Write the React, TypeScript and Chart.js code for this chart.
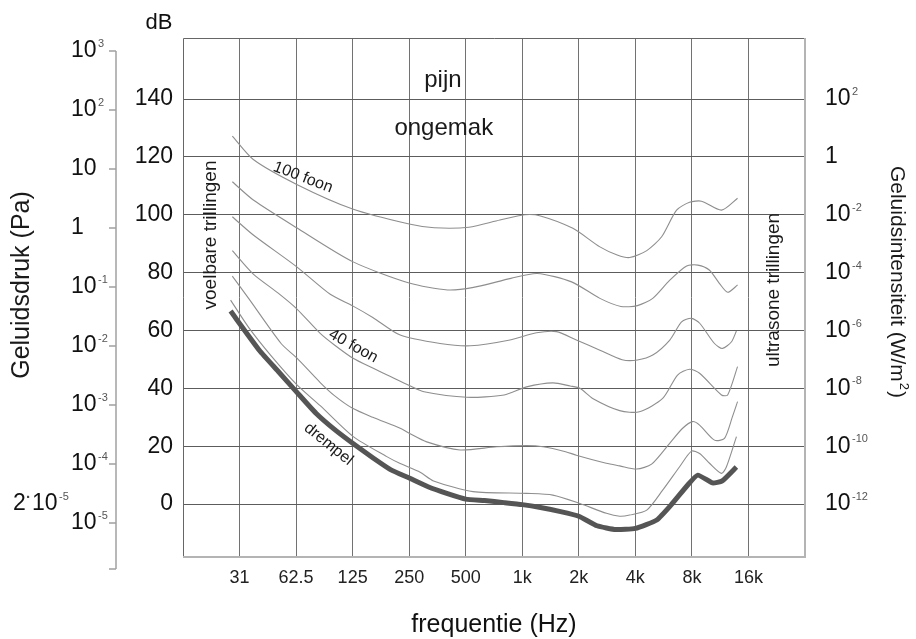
import React, { useEffect, useRef } from 'react';
import { Chart, registerables } from 'chart.js';

Chart.register(...registerables);

const FONT = "'Liberation Sans', Arial, Helvetica, sans-serif";

// ---- axes ----
const freqTicks = [31.25, 62.5, 125, 250, 500, 1000, 2000, 4000, 8000, 16000];
const freqTickLabels = ['31', '62.5', '125', '250', '500', '1k', '2k', '4k', '8k', '16k'];
const freqRange = [15.625, 32000];

const dbTicks = [0, 20, 40, 60, 80, 100, 120, 140];
const dbRange = [-18.3, 161.1];

const intensityExponents = [-12, -10, -8, -6, -4, -2, 0, 2];

const paExponents = [3, 2, 1, 0, -1, -2, -3, -4, -5];
const paRange = [-5.576, 3.22];
const paAxisEnds = [3, -5.78];

// ---- curves (Hz, dB) ----
const drempelHz = [28, 40, 50, 63, 80, 100, 125, 160, 200, 250, 315, 400, 500, 630, 800, 1000, 1250, 1600, 2000, 2500, 3150, 4000, 5200, 6200, 7600, 8600, 10300, 11600, 13800];
const drempelDb = [66.7, 53, 46, 38.7, 31.3, 25.8, 21, 16, 11.8, 9, 6, 3.6, 1.7, 1.2, 0.5, -0.2, -1.2, -2.6, -4.2, -7.5, -8.8, -8.4, -5.5, -0.3, 6.6, 10, 7.3, 8, 12.8];

const foon10Hz = [28, 35, 45.7, 63, 84, 126, 190, 224, 286, 337, 547, 1055, 1455, 2025, 2806, 3300, 3730, 4600, 5590, 6880, 7960, 8790, 9930, 11490, 12220, 13810];
const foon10Db = [70.5, 61, 51.5, 41.3, 34, 23.3, 16.4, 14, 11, 8, 4.3, 3.7, 3.1, 0.2, -3.2, -4.2, -3.8, -2.1, 4.8, 12.9, 18.3, 17.5, 14.1, 10.6, 12.9, 23.3];

const foon20Hz = [28.6, 35, 52, 63, 84, 100, 125, 160, 224, 250, 310, 466, 730, 1060, 1290, 1700, 1940, 2800, 3300, 4060, 4880, 6090, 7140, 8060, 8790, 10550, 11930, 13150, 14000];
const foon20Db = [78.8, 71, 55.5, 50.5, 42, 37.5, 33.1, 30, 26.2, 24.5, 21.5, 18.7, 19.8, 20.2, 19.8, 18.1, 16.9, 14.1, 13.2, 12.1, 13.8, 21, 26.2, 28.5, 27.3, 22.1, 22.7, 30.2, 35.4];

const foon40Hz = [28.6, 37, 50, 63, 84, 100, 125, 160, 200, 250, 300, 506, 800, 1055, 1455, 1800, 2030, 2370, 3300, 4200, 5590, 6710, 7770, 8790, 11500, 12400, 14000];
const foon40Db = [87.6, 79.5, 73, 67.5, 59, 55, 50.5, 47, 44, 41, 38.8, 36.9, 37.7, 40.5, 41.9, 40.8, 40, 36.5, 32.3, 31.9, 36.5, 44.6, 46.6, 45.2, 37.7, 37.7, 47.5];

const foon60Hz = [28.6, 37, 63, 95, 125, 160, 224, 365, 530, 860, 1190, 1520, 1940, 2590, 3400, 4100, 4950, 6100, 7050, 7960, 8800, 10550, 11640, 13000, 13800];
const foon60Db = [99.3, 93, 82, 72.5, 68.5, 64.5, 58.4, 55.5, 54.7, 56.7, 59.2, 59.6, 56.7, 53.2, 49.9, 49.8, 51.5, 56.7, 63, 64.2, 62.5, 55.5, 53.8, 56.1, 59.8];

const foon80Hz = [28.6, 37, 63, 125, 250, 400, 550, 870, 1200, 1830, 2590, 3350, 4100, 4950, 6100, 7500, 8600, 9900, 11200, 12400, 14000];
const foon80Db = [111.4, 105.1, 95.5, 83.8, 76.4, 74, 74.9, 78, 79.7, 76.8, 71.1, 68.3, 68.6, 71.1, 77.4, 82.3, 82.6, 80.9, 76.3, 73.2, 75.7];

const foon100Hz = [28.6, 37, 63, 125, 250, 340, 520, 760, 1030, 1250, 1860, 2590, 3200, 3730, 4600, 5520, 6630, 7770, 9000, 11500, 14000];
const foon100Db = [127.2, 119.1, 110.5, 102, 96.8, 95.5, 95.7, 98.2, 100, 99.6, 95.3, 88.9, 86.1, 85.2, 87.6, 92.4, 101.6, 104.3, 104.7, 101.6, 105.7];

// ---- annotations inside the plot: [text, Hz, dB, angle, size] ----
const areaLabels: [string, number, number, number, number][] = [
  ['pijn', 378, 146.6, 0, 24],
  ['ongemak', 382, 130, 0, 24],
  ['100 foon', 68, 112.9, 21, 16],
  ['40 foon', 126, 54.6, 29, 16],
  ['drempel', 93, 20.7, 39, 16],
  ['voelbare trillingen', 21.9, 93, -90, 19],
  ['ultrasone trillingen', 21700, 74, -90, 19],
];

const THIN = '#8e8e8e';
const THICK = '#555555';

function curve(hz: number[], db: number[], color: string, width: number, tension: number) {
  return {
    data: hz.map((f, i) => ({ x: f, y: db[i] })),
    borderColor: color,
    borderWidth: width,
    pointRadius: 0,
    tension,
    fill: false,
  };
}

function drawPow(ctx: CanvasRenderingContext2D, x: number, y: number, base: string, exp: string | null, size: number) {
  ctx.font = `${size}px ${FONT}`;
  ctx.fillStyle = '#111';
  ctx.textAlign = 'left';
  ctx.textBaseline = 'middle';
  ctx.fillText(base, x, y);
  const w = ctx.measureText(base).width;
  if (exp !== null) {
    ctx.font = `11px ${FONT}`;
    ctx.fillStyle = '#555';
    ctx.fillText(exp, x + w + 1.5, y - 7);
  }
}

function rotText(ctx: CanvasRenderingContext2D, s: string, x: number, y: number, deg: number, size: number) {
  ctx.save();
  ctx.translate(x, y);
  ctx.rotate((deg * Math.PI) / 180);
  ctx.font = `${size}px ${FONT}`;
  ctx.fillStyle = '#1a1a1a';
  ctx.textAlign = 'center';
  ctx.textBaseline = 'middle';
  ctx.fillText(s, 0, 0);
  ctx.restore();
}

const overlay = {
  id: 'overlay',
  beforeDatasetsDraw(chart: any) {
    const { ctx, chartArea: a } = chart;
    ctx.save();
    ctx.lineWidth = 1;
    ctx.strokeStyle = '#666';
    ctx.beginPath();
    ctx.moveTo(a.left + 0.5, a.bottom);
    ctx.lineTo(a.left + 0.5, a.top + 0.5);
    ctx.lineTo(a.right, a.top + 0.5);
    ctx.stroke();
    ctx.lineWidth = 2;
    ctx.strokeStyle = '#b4b4b4';
    ctx.beginPath();
    ctx.moveTo(a.left, a.bottom);
    ctx.lineTo(a.right, a.bottom);
    ctx.lineTo(a.right, a.top);
    ctx.stroke();
    ctx.restore();
  },
  afterDraw(chart: any) {
    const { ctx, chartArea: a, scales } = chart;
    const y = scales.y;
    const x = scales.x;
    const pa = scales.pa;
    ctx.save();

    // left Pa axis
    const axX = a.left - 67;
    ctx.strokeStyle = '#a0a0a0';
    ctx.lineWidth = 1.5;
    ctx.beginPath();
    ctx.moveTo(axX, pa.getPixelForValue(paAxisEnds[0]));
    ctx.lineTo(axX, pa.getPixelForValue(paAxisEnds[1]));
    ctx.stroke();
    ctx.beginPath();
    paExponents.forEach((e) => {
      const py = pa.getPixelForValue(e);
      ctx.moveTo(axX - 7, py);
      ctx.lineTo(axX, py);
    });
    ctx.moveTo(axX - 7, pa.getPixelForValue(paAxisEnds[1]));
    ctx.lineTo(axX, pa.getPixelForValue(paAxisEnds[1]));
    ctx.stroke();
    paExponents.forEach((e) => {
      const py = pa.getPixelForValue(e);
      if (e === 0) drawPow(ctx, axX - 45, py, '1', null, 23);
      else if (e === 1) drawPow(ctx, axX - 45, py, '10', null, 23);
      else drawPow(ctx, axX - 45, py, '10', String(e), 23);
    });
    // 2·10^-5 at 0 dB
    const p0 = y.getPixelForValue(0);
    ctx.font = `23px ${FONT}`;
    ctx.fillStyle = '#111';
    ctx.textAlign = 'left';
    ctx.textBaseline = 'middle';
    ctx.fillText('2', 13, p0);
    ctx.font = `bold 15px ${FONT}`;
    ctx.fillStyle = '#444';
    ctx.fillText('·', 26, p0 - 6);
    drawPow(ctx, 32, p0, '10', '-5', 23);

    // right intensity labels
    dbTicks.forEach((v, i) => {
      const e = intensityExponents[i];
      const py = y.getPixelForValue(v);
      if (e === 0) drawPow(ctx, a.right + 20, py, '1', null, 23);
      else drawPow(ctx, a.right + 20, py, '10', String(e), 23);
    });

    // dB
    ctx.font = `22px ${FONT}`;
    ctx.fillStyle = '#111';
    ctx.textAlign = 'center';
    ctx.textBaseline = 'middle';
    ctx.fillText('dB', a.left - 24, a.top - 15);

    // x title
    ctx.font = `25px ${FONT}`;
    ctx.fillText('frequentie (Hz)', (a.left + a.right) / 2, 625);

    // left title
    rotText(ctx, 'Geluidsdruk (Pa)', 22, 285, -90, 25);

    // right title with superscript
    ctx.save();
    ctx.translate(897, 282);
    ctx.rotate(Math.PI / 2);
    ctx.fillStyle = '#1a1a1a';
    ctx.textAlign = 'left';
    ctx.textBaseline = 'middle';
    const t1 = 'Geluidsintensiteit (W/m';
    const t2 = '2';
    const t3 = ')';
    ctx.font = `21px ${FONT}`;
    const w1 = ctx.measureText(t1).width;
    const w3 = ctx.measureText(t3).width;
    ctx.font = `13px ${FONT}`;
    const w2 = ctx.measureText(t2).width;
    const start = -(w1 + w2 + w3 + 2) / 2;
    ctx.font = `21px ${FONT}`;
    ctx.fillText(t1, start, 0);
    ctx.font = `13px ${FONT}`;
    ctx.fillText(t2, start + w1 + 1, -7);
    ctx.font = `21px ${FONT}`;
    ctx.fillText(t3, start + w1 + w2 + 2, 0);
    ctx.restore();

    // annotations in plot
    areaLabels.forEach(([s, f, d, ang, size]) => {
      rotText(ctx, s, x.getPixelForValue(f), y.getPixelForValue(d), ang, size);
    });

    ctx.restore();
  },
};

export default function App() {
  const ref = useRef<HTMLCanvasElement | null>(null);
  useEffect(() => {
    if (!ref.current) return;
    Chart.defaults.font.family = FONT;
    const chart = new Chart(ref.current, {
      type: 'line',
      data: {
        datasets: [
          curve(drempelHz, drempelDb, THICK, 5, 0.15),
          curve(foon10Hz, foon10Db, THIN, 1.1, 0.25),
          curve(foon20Hz, foon20Db, THIN, 1.1, 0.25),
          curve(foon40Hz, foon40Db, THIN, 1.1, 0.25),
          curve(foon60Hz, foon60Db, THIN, 1.1, 0.25),
          curve(foon80Hz, foon80Db, THIN, 1.1, 0.25),
          curve(foon100Hz, foon100Db, THIN, 1.1, 0.25),
        ] as any,
      },
      options: {
        animation: false,
        responsive: false,
        devicePixelRatio: 1,
        layout: { padding: { top: 38, right: 111, left: 0, bottom: 0 } },
        plugins: { legend: { display: false }, tooltip: { enabled: false }, title: { display: false } },
        scales: {
          x: {
            type: 'logarithmic',
            min: freqRange[0],
            max: freqRange[1],
            afterBuildTicks: (s: any) => {
              s.ticks = freqTicks.map((v) => ({ value: v }));
            },
            afterFit: (s: any) => {
              s.height = 82;
            },
            ticks: {
              autoSkip: false,
              maxRotation: 0,
              padding: 10,
              color: '#222',
              font: { size: 18 },
              callback: (_v: any, i: number) => freqTickLabels[i],
            },
            grid: { color: '#727272', lineWidth: 1, drawTicks: false },
            border: { display: false },
          },
          y: {
            type: 'linear',
            position: 'left',
            min: dbRange[0],
            max: dbRange[1],
            afterBuildTicks: (s: any) => {
              s.ticks = dbTicks.map((v) => ({ value: v }));
            },
            afterFit: (s: any) => {
              s.width = 183;
            },
            ticks: { padding: 10, color: '#111', font: { size: 23 } },
            grid: { color: '#5c5c5c', lineWidth: 1, drawTicks: false },
            border: { display: false },
          },
          pa: {
            type: 'linear',
            position: 'left',
            display: false,
            min: paRange[0],
            max: paRange[1],
          },
        } as any,
      },
      plugins: [overlay],
    });
    return () => chart.destroy();
  }, []);
  return (
    <div style={{ position: 'fixed', left: 0, top: 0, width: 916, height: 639, background: '#fff' }}>
      <canvas ref={ref} width={916} height={639} style={{ display: 'block' }} />
    </div>
  );
}
